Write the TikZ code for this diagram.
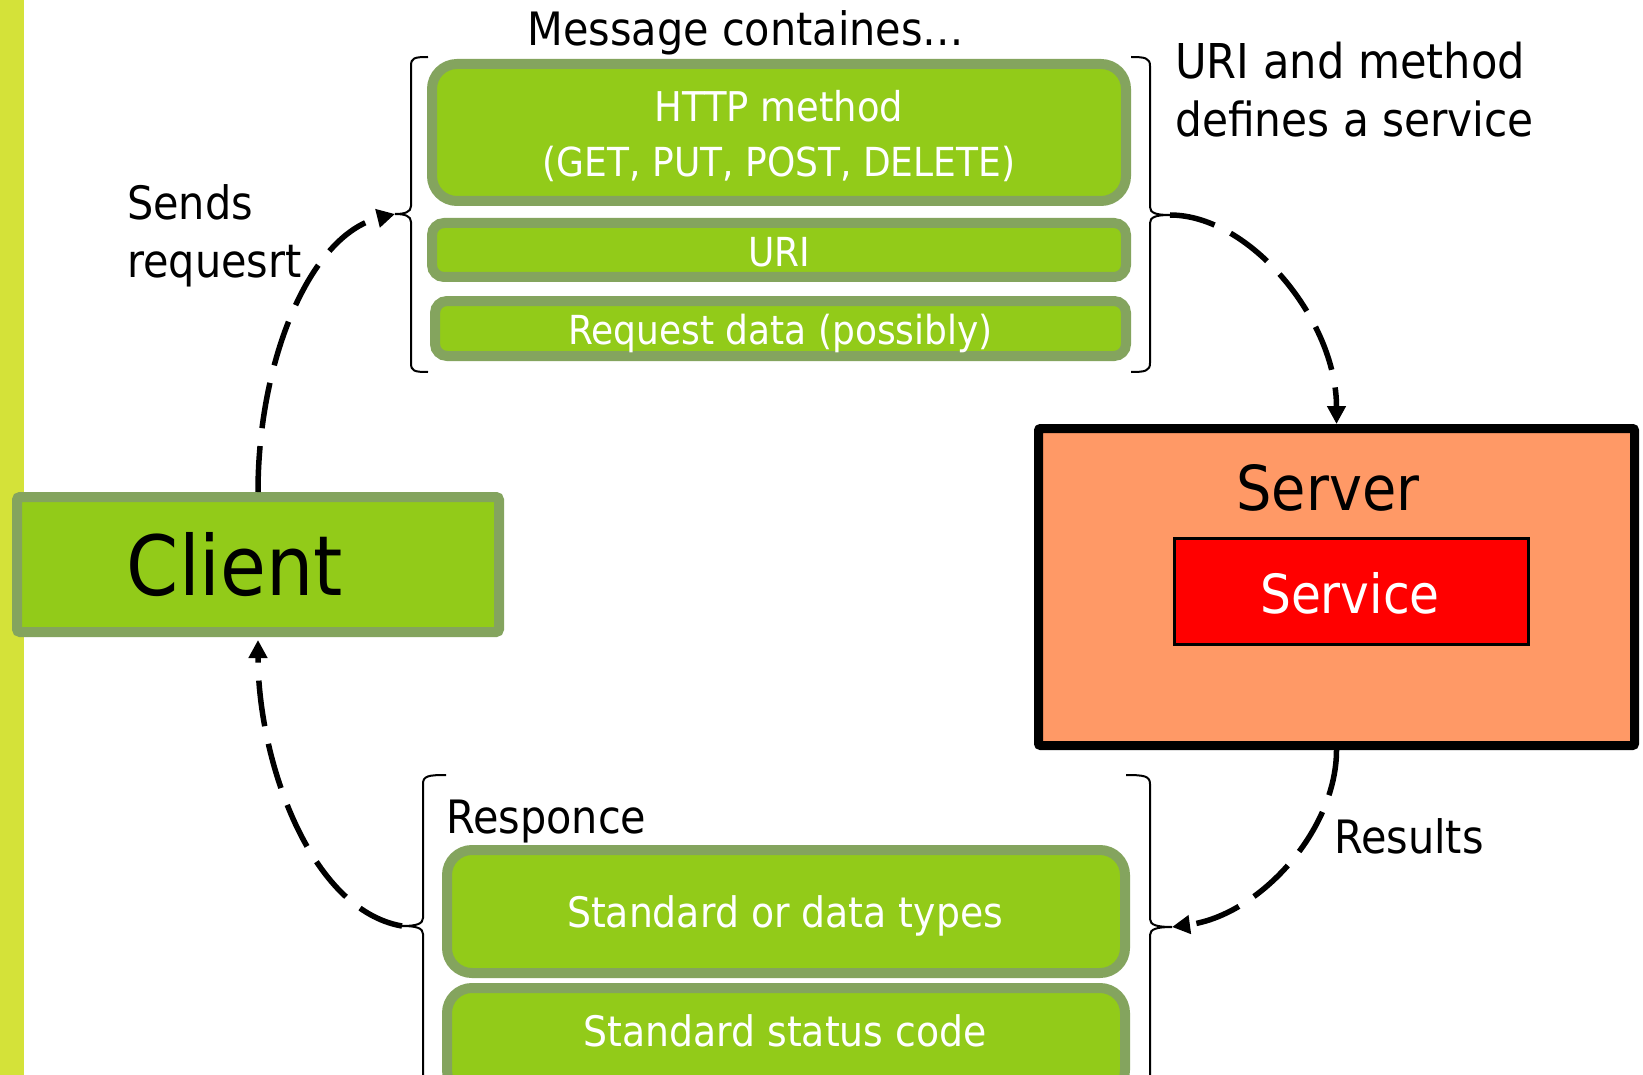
\documentclass[tikz,border=0pt]{standalone}
\usepackage{fontspec}
\setmainfont{DejaVu Sans}[FakeStretch=0.9]
\usetikzlibrary{arrows.meta}
\definecolor{gfill}{HTML}{92CB19}
\definecolor{gedge}{HTML}{84A45E}
\definecolor{sidebar}{HTML}{D4E239}
\definecolor{srvfill}{HTML}{FF9966}
\newcommand\myfs[1]{\fontsize{#1}{#1}\selectfont}
\begin{document}
\begin{tikzpicture}[x=1pt,y=-1pt,
  gbox/.style={draw=gedge,fill=gfill,line width=10pt,inner sep=0pt},
  wtext/.style={text=white,inner sep=0pt,anchor=base},
  btext/.style={text=black,inner sep=0pt,anchor=base},
  ltext/.style={text=black,inner sep=0pt,anchor=base west},
  brk/.style={line width=2pt},
  flow/.style={line width=5.5pt,dash pattern=on 46pt off 18pt,-{Triangle[length=18pt,width=18pt]}},
]
\useasboundingbox (0,0) rectangle (1643,1075);
\clip (0,0) rectangle (1643,1075);
\fill[white] (0,0) rectangle (1643,1075);
\fill[sidebar] (0,0) rectangle (24,1075);

% Client
\node[gbox,rounded corners=3pt,minimum width=482pt,minimum height=135pt] (client) at (258,564.5) {};
\node[btext] (clientlbl) at (235,595) {\myfs{83}Client};

% Request message boxes
\node[btext] (msg) at (746,46) {\myfs{46}Message containes…};
\node[gbox,rounded corners=25pt,minimum width=694pt,minimum height=137pt] (http) at (779,132.5) {};
\node[wtext] (http1) at (779,122) {\myfs{41}HTTP method};
\node[wtext] (http2) at (779,177) {\myfs{40}(GET, PUT, POST, DELETE)};
\node[gbox,rounded corners=12pt,minimum width=694pt,minimum height=54pt] (uri) at (779,250) {};
\node[wtext] (urilbl) at (779,267) {\myfs{40}URI};
\node[gbox,rounded corners=12pt,minimum width=691pt,minimum height=55pt] (req) at (780.5,328.5) {};
\node[wtext] (reqlbl) at (780.5,344) {\myfs{40}Request data (possibly)};

% top brackets
\coordinate (tl) at (395,214);
\draw[brk] (428,57) .. controls (414,57) and (411,58) .. (411,66) -- (411,206)
  .. controls (411,212) and (405,214) .. (tl)
  .. controls (405,214) and (411,216) .. (411,222) -- (411,363)
  .. controls (411,371) and (414,372) .. (428,372);
\coordinate (tr) at (1170,215);
\draw[brk] (1131,57) .. controls (1145,57) and (1150,58) .. (1150,66) -- (1150,207)
  .. controls (1150,213) and (1156,215) .. (tr)
  .. controls (1156,215) and (1150,217) .. (1150,223) -- (1150,363)
  .. controls (1150,371) and (1145,372) .. (1131,372);

\node[ltext] (uri1) at (1175,79) {\myfs{48}URI and method};
\node[ltext] (uri2) at (1175,137) {\myfs{47}defines a service};

% Server
\node[draw=black,fill=srvfill,line width=9pt,rounded corners=2pt,inner sep=0pt,minimum width=596pt,minimum height=317pt] (server) at (1336.5,587) {};
\node[btext] (serverlbl) at (1328,510) {\myfs{62}Server};
\node[draw=black,fill=red,line width=3pt,inner sep=0pt,minimum width=354pt,minimum height=106pt] (service) at (1351.5,591.5) {};
\node[wtext] (servicelbl) at (1350,613) {\myfs{54}Service};

% Response
\node[ltext] (resp) at (446,833) {\myfs{46}Responce};
\node[gbox,rounded corners=25pt,minimum width=678pt,minimum height=123pt] (types) at (786,911.5) {};
\node[wtext] (typeslbl) at (785,927) {\myfs{42}Standard or data types};
\node[gbox,rounded corners=25pt,minimum width=678pt,minimum height=107pt] (status) at (786,1041.5) {};
\node[wtext] (statuslbl) at (785,1046) {\myfs{42}Standard status code};

% bottom brackets
\coordinate (bl) at (402,926);
\draw[brk] (446,775) .. controls (428,775) and (423,776) .. (423,784) -- (423,918)
  .. controls (423,924) and (416,926) .. (bl)
  .. controls (416,926) and (423,928) .. (423,934) -- (423,1090);
\coordinate (br) at (1172,927);
\draw[brk] (1126,775) .. controls (1144,775) and (1150,776) .. (1150,784) -- (1150,919)
  .. controls (1150,925) and (1157,927) .. (br)
  .. controls (1157,927) and (1150,929) .. (1150,935) -- (1150,1090);

% labels
\node[ltext] (sends1) at (127,220) {\myfs{46}Sends};
\node[ltext] (sends2) at (127,277) {\myfs{46}requesrt};
\node[ltext] (results) at (1334,853) {\myfs{46}Results};

% flows
\draw[flow] (client.north) .. controls (258,360) and (310,235) .. (tl);
\draw[flow] (tr) .. controls (1250,215) and (1336.5,320) .. (server.north);
\draw[flow] (server.south) .. controls (1336.5,830) and (1260,915) .. (br);
\draw[flow] (bl) .. controls (310,910) and (258,760) .. ([yshift=-3pt]client.south);
\end{tikzpicture}
\end{document}
